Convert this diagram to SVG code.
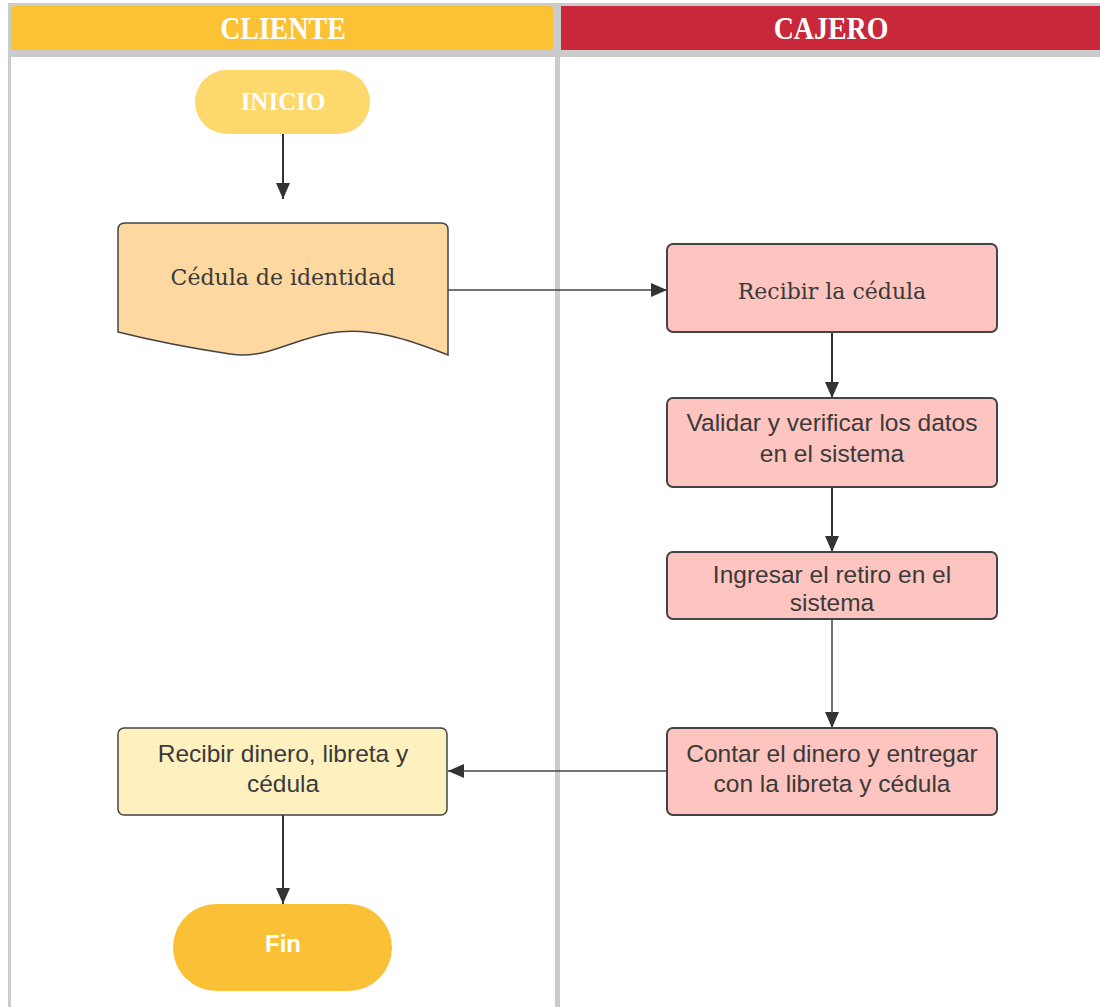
<svg xmlns="http://www.w3.org/2000/svg" width="1100" height="1007" viewBox="0 0 1100 1007">
  <defs>
    <marker id="arrow" viewBox="0 0 10 10" refX="10" refY="5" markerWidth="16" markerHeight="14" markerUnits="userSpaceOnUse" orient="auto" preserveAspectRatio="none">
      <path d="M0,0 L10,5 L0,10 z" fill="#333333"/>
    </marker>
    <style>
      .lane-line { fill: #cbcbcb; }
      .hdr { font-family: "Liberation Serif", "DejaVu Serif", serif; font-weight: bold; font-size: 31px; fill: #ffffff; text-anchor: middle; }
      .serif { font-family: "DejaVu Serif", "Liberation Serif", serif; font-size: 22px; fill: #3a3a3a; text-anchor: middle; }
      .sans { font-family: "Liberation Sans", Arial, sans-serif; font-size: 24.5px; fill: #3a3a3a; text-anchor: middle; }
      .box { stroke: #444444; stroke-width: 2; }
      .conn { fill: none; stroke: #333333; stroke-width: 2; marker-end: url(#arrow); }
      .conn-thin { fill: none; stroke: #444444; stroke-width: 1.5; marker-end: url(#arrow); }
    </style>
  </defs>

  <rect width="1100" height="1007" fill="#ffffff"/>

  <!-- swimlane frame -->
  <g id="lanes">
    <rect class="lane-line" x="8" y="3" width="1092" height="54"/>
    <rect x="11" y="6" width="542" height="44" rx="3" fill="#fbc236"/>
    <rect x="561" y="6" width="539" height="44" fill="#c8283a"/>
    <rect class="lane-line" x="8" y="50" width="3" height="957"/>
    <rect class="lane-line" x="555" y="50" width="5" height="957"/>
    <text class="hdr" transform="translate(283,39) scale(0.9,1)">CLIENTE</text>
    <text class="hdr" transform="translate(831,39) scale(0.9,1)">CAJERO</text>
  </g>

  <!-- connectors -->
  <g id="connectors">
    <path class="conn" d="M283,134 V199"/>
    <path class="conn-thin" d="M448,290 H667"/>
    <path class="conn" d="M832,332 V398"/>
    <path class="conn" d="M832,487 V552"/>
    <path class="conn-thin" d="M832,619 V728"/>
    <path class="conn-thin" d="M667,771 H448"/>
    <path class="conn" d="M283,815 V904"/>
  </g>

  <g id="inicio">
    <rect x="195" y="70" width="175" height="64" rx="32" fill="#fdd86c"/>
    <text class="hdr" x="283" y="110" style="font-size:25px">INICIO</text>
  </g>

  <g id="cedula">
    <path class="box" style="stroke-width:1.5" fill="#fdd8a1"
          d="M118,230 Q118,223 125,223 H441 Q448,223 448,230 V355 C410,340 370,326 330,333 C290,340 265,360 230,354 C190,348 150,340 118,332 Z"/>
    <text class="serif" x="283" y="285">Cédula de identidad</text>
  </g>

  <g id="recibir-cedula">
    <rect class="box" x="667" y="244" width="330" height="88" rx="6" fill="#fec4bf"/>
    <text class="serif" x="832" y="299">Recibir la cédula</text>
  </g>

  <g id="validar">
    <rect class="box" x="667" y="398" width="330" height="89" rx="6" fill="#fec4bf"/>
    <text class="sans" x="832" y="431">Validar y verificar los datos</text>
    <text class="sans" x="832" y="462">en el sistema</text>
  </g>

  <g id="ingresar">
    <rect class="box" x="667" y="552" width="330" height="67" rx="6" fill="#fec4bf"/>
    <text class="sans" x="832" y="583">Ingresar el retiro en el</text>
    <text class="sans" x="832" y="611">sistema</text>
  </g>

  <g id="contar">
    <rect class="box" x="667" y="728" width="330" height="87" rx="6" fill="#fec4bf"/>
    <text class="sans" x="832" y="762">Contar el dinero y entregar</text>
    <text class="sans" x="832" y="792">con la libreta y cédula</text>
  </g>

  <g id="recibir-dinero">
    <rect class="box" style="stroke-width:1.5" x="118" y="728" width="329" height="87" rx="6" fill="#fff0bf"/>
    <text class="sans" x="283" y="762">Recibir dinero, libreta y</text>
    <text class="sans" x="283" y="792">cédula</text>
  </g>

  <g id="fin">
    <rect x="173" y="904" width="219" height="87" rx="43.5" fill="#fbc136"/>
    <text x="283" y="952" style="font-family:'Liberation Sans',Arial,sans-serif;font-weight:bold;font-size:24px;fill:#ffffff;text-anchor:middle">Fin</text>
  </g>
</svg>
